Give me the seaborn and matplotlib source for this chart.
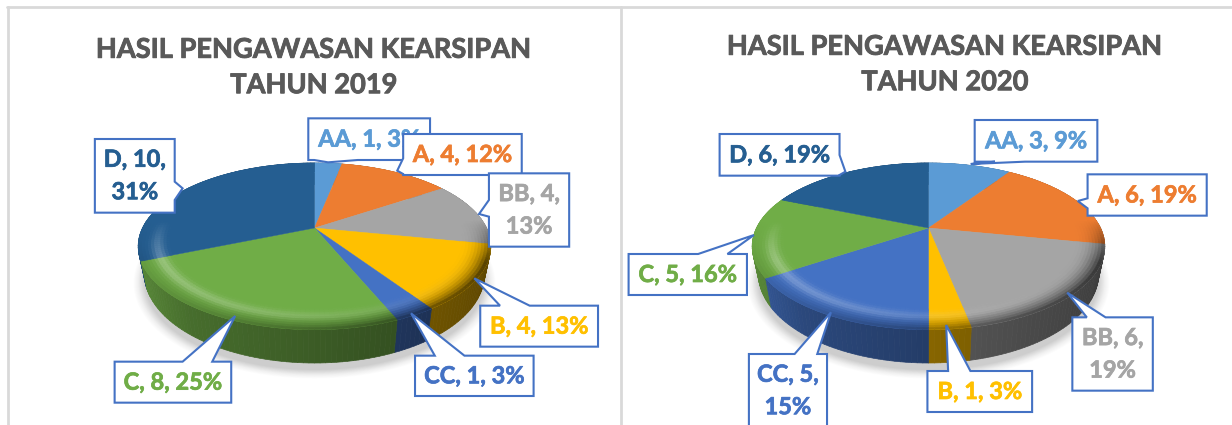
import numpy as np
import seaborn as sns
import matplotlib
matplotlib.use("Agg")
import matplotlib.pyplot as plt
import matplotlib.patheffects as pe
from matplotlib.collections import PolyCollection

sns.set_theme(style="white")
plt.rcParams['font.family'] = ['Lato', 'DejaVu Sans']

categories = ["AA", "A", "BB", "B", "CC", "C", "D"]
values_2019 = [1, 4, 4, 4, 1, 8, 10]
percent_2019 = [3, 12, 13, 13, 3, 25, 31]
values_2020 = [3, 6, 6, 1, 5, 5, 6]
percent_2020 = [9, 19, 19, 3, 15, 16, 19]
title_2019 = "HASIL PENGAWASAN KEARSIPAN\nTAHUN 2019"
title_2020 = "HASIL PENGAWASAN KEARSIPAN\nTAHUN 2020"
palette = sns.color_palette(["#5B9BD5", "#ED7D31", "#A5A5A5", "#FFC000", "#4472C4", "#70AD47", "#255E91"])

W, H = 1232, 425
EDGE = "#4472C4"
K, RX, RY, DEPTH = 0.22, 172.0, 79.3, 26.0

S1, S2 = 2.53, 2.56
def zc(off, s, *pts):
    return [(off + x / s, 100 + y / 3) for x, y in pts]

CALL_2019 = {
    "AA": ((780, 55, 1088, 180), (830, 187), (795, 180), (905, 180), False),
    "A": ((1020, 102, 1320, 225), (1005, 212), (1020, 175), (1020, 222), False),
    "BB": ((1237, 220, 1440, 440), (1212, 342), (1237, 300), (1237, 350), True),
    "B": ((1215, 617, 1513, 740), (1200, 535), (1265, 617), (1340, 617), False),
    "CC": ((1050, 767, 1350, 888), (1040, 640), (1100, 767), (1175, 767), False),
    "C": ((290, 785, 585, 908), (595, 648), (462, 785), (537, 785), False),
    "D": ((240, 117, 442, 338), (462, 265), (442, 245), (442, 300), True),
}
CALL_2020 = {
    "AA": ((908, 60, 1222, 185), (898, 192), (960, 185), (1037, 185), False),
    "A": ((1197, 223, 1502, 347), (1172, 303), (1197, 295), (1197, 325), False),
    "BB": ((1158, 652, 1364, 872), (1145, 578), (1195, 652), (1243, 652), True),
    "B": ((787, 813, 1055, 936), (835, 675), (840, 813), (897, 813), False),
    "CC": ((330, 762, 530, 985), (540, 637), (447, 762), (505, 762), True),
    "C": ((22, 462, 325, 585), (343, 405), (200, 462), (275, 462), False),
    "D": ((255, 102, 562, 227), (577, 215), (562, 165), (562, 225), False),
}

fig = plt.figure(figsize=(W / 100, H / 100), dpi=100, facecolor="white")
ax = fig.add_axes([0, 0, 1, 1])
ax.set_xlim(0, W)
ax.set_ylim(H, 0)
ax.axis("off")


def project(theta, r, cx, cy, down=0.0):
    """clockwise-from-top angle in degrees, radius -> screen pixels with perspective"""
    t = np.radians(theta)
    x, y = r * np.sin(t), r * np.cos(t)
    w = 1 + K * y
    shrink = 1 - 0.035 * (down / DEPTH)
    return cx + RX * x * shrink / w, cy - RY * y / w + down / w


def shade(base, theta, s):
    t = np.radians(theta)
    x, y = np.sin(t), np.cos(t)
    front = np.clip((-y + 0.1) / 0.5, 0, 1)
    lx = (1 - x) / 2
    base = np.array(base)
    glow = np.exp(-((s - 0.38) / 0.2) ** 2) * 0.30 * lx * front
    dark = (s ** 2.4) * (0.08 + 0.7 * (1 - lx)) * front
    c = base * (1 - dark)
    return tuple(np.clip(c + (1 - c) * glow, 0, 1))


def rim_shade(base, theta):
    x = np.sin(np.radians(theta))
    f = 0.36 + 0.34 * (1 - x) / 2 + 0.12 * max(0, -x - 0.6) / 0.4
    return tuple(np.array(base) * f)


def slice_angles(values):
    # use matplotlib's pie to get slice extents from the data
    tmp = plt.figure()
    a = tmp.add_subplot()
    wedges, _ = a.pie(values, startangle=90, counterclock=False)
    ang = [((90 - w.theta2) % 360, (90 - w.theta2) % 360 + (w.theta2 - w.theta1)) for w in wedges]
    plt.close(tmp)
    return ang


def draw_pie(values, cx, cy):
    angs = slice_angles(values)
    # shadow
    tt = np.linspace(0, 360, 181)
    for grow, al in zip(np.linspace(1.06, 1.0, 12), [0.01] * 5 + [0.018] * 7):
        xs, ys = project(tt, grow, cx, cy + 7, DEPTH)
        ax.fill(xs, ys, color="black", alpha=al, lw=0, zorder=1)
    polys, cols = [], []
    # rim, back to front
    for (a0, a1), col in zip(angs, palette):
        n = max(2, int((a1 - a0) / 1.5))
        th = np.linspace(a0, a1, n + 1)
        for i in range(n):
            tq = [th[i], th[i + 1]]
            x0, y0 = project(np.array(tq), 1.0, cx, cy)
            x1, y1 = project(np.array(tq[::-1]), 1.0, cx, cy, DEPTH)
            polys.append(np.c_[np.r_[x0, x1], np.r_[y0, y1]])
            cols.append(rim_shade(col, np.mean(tq)))
    order = np.argsort([p[:, 1].mean() for p in polys])
    pc = PolyCollection([polys[i] for i in order], facecolors=[cols[i] for i in order],
                        edgecolors=[cols[i] for i in order], linewidths=0.5, zorder=2)
    ax.add_collection(pc)
    # top face
    R_IN = 0.83
    for (a0, a1), col in zip(angs, palette):
        th = np.linspace(a0, a1, max(3, int(a1 - a0) + 1))
        xs, ys = project(th, 1.0, cx, cy)
        ax.fill(np.r_[cx, xs], np.r_[cy, ys], color=col, lw=0.3, zorder=3)
    # bevel
    polys, cols = [], []
    for (a0, a1), col in zip(angs, palette):
        n = max(2, int((a1 - a0) / 1.5))
        th = np.linspace(a0, a1, n + 1)
        rs = np.linspace(R_IN, 1.0, 11)
        for i in range(n):
            for j in range(10):
                tq = np.array([th[i], th[i + 1]])
                x0, y0 = project(tq, rs[j], cx, cy)
                x1, y1 = project(tq[::-1], rs[j + 1], cx, cy)
                polys.append(np.c_[np.r_[x0, x1], np.r_[y0, y1]])
                cols.append(shade(col, tq.mean(), (j + 0.5) / 10))
    ax.add_collection(PolyCollection(polys, facecolors=cols, edgecolors=cols, linewidths=0.4, zorder=4))


def draw_callouts(spec, off, s, values, percents):
    for z, (cat, v, p, col) in enumerate(zip(categories, values, percents, palette)):
        (x0, y0, x1, y1), tip, a, b, broken = spec[cat]
        (px0, py0), (px1, py1), tip, a, b = zc(off, s, (x0, y0), (x1, y1), tip, a, b)
        corners = [(px0, py0), (px1, py0), (px1, py1), (px0, py1)]
        pts = []
        for i, j in [(0, 1), (1, 2), (2, 3), (3, 0)]:
            pts.append(corners[i])
            c0, c1 = np.array(corners[i]), np.array(corners[j])
            d = c1 - c0
            pa, pb = np.array(a), np.array(b)
            on_a = abs(d[0] * (pa - c0)[1] - d[1] * (pa - c0)[0]) < 1e-6
            on_b = abs(d[0] * (pb - c0)[1] - d[1] * (pb - c0)[0]) < 1e-6
            if on_a and on_b:
                first, second = (a, b) if np.dot(pa - c0, d) < np.dot(pb - c0, d) else (b, a)
                pts += [first, tip, second]
        xs, ys = zip(*pts)
        ax.fill(xs, ys, facecolor="white", edgecolor=EDGE, lw=1.5, zorder=10 + z * 2, joinstyle="miter")
        label = f"{cat}, {v},\n{p}%" if broken else f"{cat}, {v}, {p}%"
        ymid = (py0 + min(py1, py0 + 73)) / 2
        ax.text((px0 + px1) / 2, ymid, label, color=col, fontsize=17, fontweight="bold",
                ha="center", va="center", linespacing=1.5, zorder=11 + z * 2,
                path_effects=[pe.withStroke(linewidth=0.5, foreground=col)])


draw_pie(values_2019, 314.5, 228)
draw_pie(values_2020, 928.5, 228)
draw_callouts(CALL_2019, 0, S1, values_2019, percent_2019)
draw_callouts(CALL_2020, 620, S2, values_2020, percent_2020)

for tx, ty, title in [(314, 67.5, title_2019), (945, 64.5, title_2020)]:
    ax.text(tx, ty, title, color="#595959", fontsize=19.6, fontweight="bold", ha="center", va="center",
            linespacing=1.57, zorder=30, path_effects=[pe.withStroke(linewidth=0.6, foreground="#595959")])

ax.plot([7, W], [7, 7], color="#D9D9D9", lw=2, zorder=0)
ax.plot([7.5, 7.5], [7, H], color="#D9D9D9", lw=2, zorder=0)
ax.plot([621, 621], [7, H], color="#D9D9D9", lw=2, zorder=0)

fig.savefig("out.png", dpi=100, facecolor="white")
